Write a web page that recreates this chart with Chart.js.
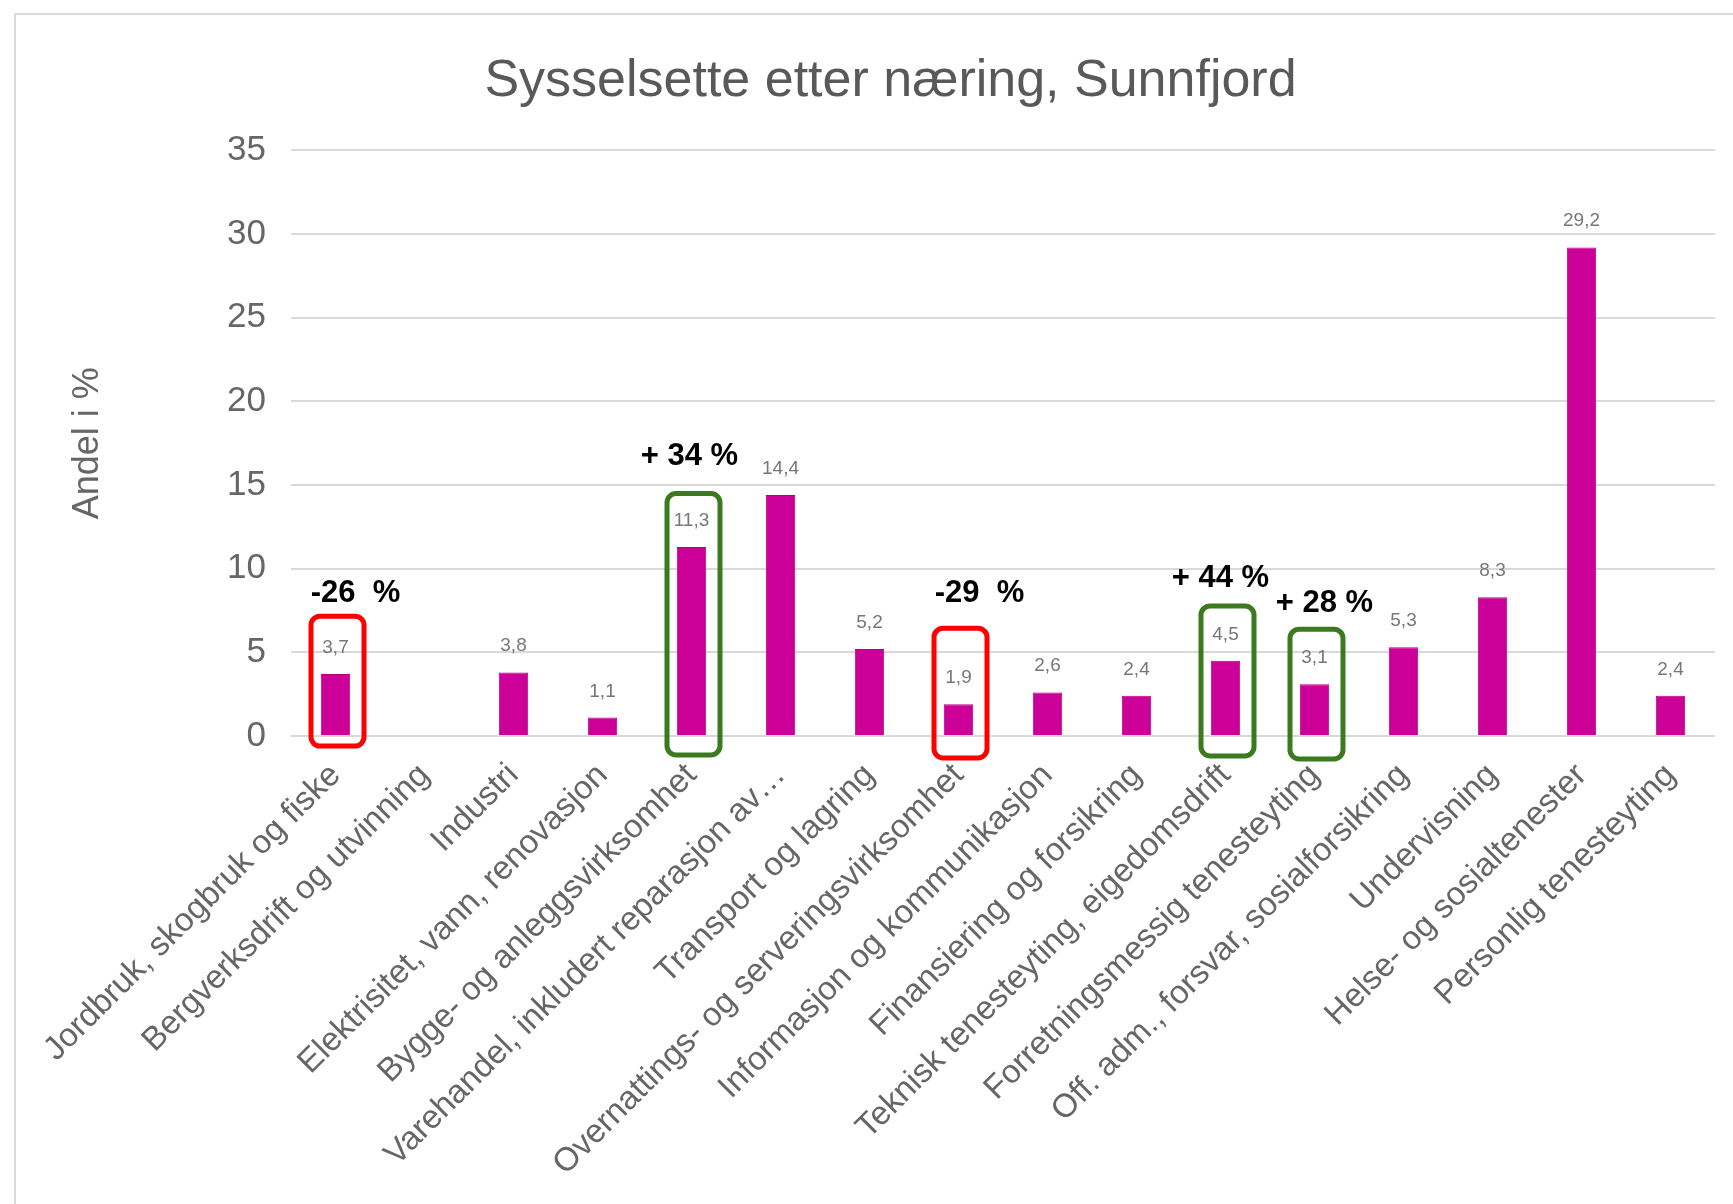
<!DOCTYPE html>
<html>
<head>
<meta charset="utf-8">
<script src="https://cdn.jsdelivr.net/npm/chart.js@4/dist/chart.umd.min.js"></script>
<style>
  html, body { margin: 0; padding: 0; background: #fff; }
  #wrap { position: relative; width: 1733px; height: 1204px; }
  #frame { position: absolute; left: 14px; top: 13px; right: 0; bottom: 0;
           border-left: 2px solid #dadada; border-top: 2px solid #dadada; pointer-events: none; }
</style>
</head>
<body>
<div id="wrap">
  <canvas id="myChart" width="1733" height="1204"></canvas>
  <div id="frame"></div>
</div>
<script>
const categories = [
  'Jordbruk, skogbruk og fiske',
  'Bergverksdrift og utvinning',
  'Industri',
  'Elektrisitet, vann, renovasjon',
  'Bygge- og anleggsvirksomhet',
  'Varehandel, inkludert reparasjon av…',
  'Transport og lagring',
  'Overnattings- og serveringsvirksomhet',
  'Informasjon og kommunikasjon',
  'Finansiering og forsikring',
  'Teknisk tenesteyting, eigedomsdrift',
  'Forretningsmessig tenesteyting',
  'Off. adm., forsvar, sosialforsikring',
  'Undervisning',
  'Helse- og sosialtenester',
  'Personlig tenesteyting'
];
const andel = [3.7, 0, 3.8, 1.1, 11.3, 14.4, 5.2, 1.9, 2.6, 2.4, 4.5, 3.1, 5.3, 8.3, 29.2, 2.4];
const yTicks = [0, 5, 10, 15, 20, 25, 30, 35];

// endringar markerte med boksar (kategori-indeks og tekst)
const markIndex = [0, 4, 7, 10, 11];
const markText = ['-26  %', '+ 34 %', '-29  %', '+ 44 %', '+ 28 %'];

const RED = '#ff0000';
const GREEN = '#3b7a1f';
const markStyle = [
  { color: RED,   top: 7.16,  bottom: -0.6,  textY: 8.53,  textDx: 20 },
  { color: GREEN, top: 14.49, bottom: -1.13, textY: 16.7,  textDx: -2 },
  { color: RED,   top: 6.44,  bottom: -1.31, textY: 8.53,  textDx: 21 },
  { color: GREEN, top: 7.77,  bottom: -1.19, textY: 9.42,  textDx: -5 },
  { color: GREEN, top: 6.38,  bottom: -1.37, textY: 7.93,  textDx: 10 }
];

const FONT = '"Liberation Sans", Arial, sans-serif';

const labelsPlugin = {
  id: 'labelsAndMarks',
  afterDatasetsDraw(chart) {
    const ctx = chart.ctx;
    const meta = chart.getDatasetMeta(0);
    ctx.save();
    ctx.font = '19px ' + FONT;
    ctx.fillStyle = '#777777';
    ctx.textAlign = 'center';
    ctx.textBaseline = 'alphabetic';
    meta.data.forEach((bar, i) => {
      const v = andel[i];
      if (!v) return;
      ctx.fillText(v.toFixed(1).replace('.', ','), bar.x, bar.y - 21);
    });

    const xs = chart.scales.x, ys = chart.scales.y;
    markIndex.forEach((idx, k) => {
      const st = markStyle[k];
      const cx = xs.getPixelForValue(idx) + 2;
      const top = ys.getPixelForValue(st.top);
      const bottom = ys.getPixelForValue(st.bottom);
      ctx.lineWidth = 5;
      ctx.strokeStyle = st.color;
      ctx.beginPath();
      ctx.roundRect(cx - 26.5, top, 53, bottom - top, 9);
      ctx.stroke();

      ctx.font = 'bold 31px ' + FONT;
      ctx.fillStyle = '#000';
      ctx.textAlign = 'center';
      ctx.textBaseline = 'middle';
      ctx.fillText(markText[k], xs.getPixelForValue(idx) + st.textDx, ys.getPixelForValue(st.textY));
    });
    ctx.restore();
  }
};

document.addEventListener('DOMContentLoaded', function() {
  const ctx = document.getElementById('myChart');

  new Chart(ctx, {
    type: 'bar',
    data: {
      labels: categories,
      datasets: [{
        label: 'Andel i %',
        data: andel,
        backgroundColor: '#cc0099',
        borderColor: '#b3007f',
        borderWidth: 1,
        barPercentage: 0.33,
        categoryPercentage: 1
      }]
    },
    options: {
      responsive: false,
      animation: false,
      devicePixelRatio: 1,
      layout: { padding: { left: 66, right: 18, top: 0, bottom: 0 } },
      plugins: {
        legend: { display: false },
        tooltip: { enabled: false },
        title: {
          display: true,
          text: 'Sysselsette etter næring, Sunnfjord',
          color: '#595959',
          font: { family: FONT, size: 52, weight: 'normal' },
          padding: { top: 50, bottom: 38 }
        }
      },
      scales: {
        x: {
          grid: { display: false, drawTicks: false },
          border: { display: false },
          afterFit(scale) {
            // lange skrå etikettar skal ikkje skuve plottet
            scale.paddingLeft = 0;
            scale.paddingRight = 0;
            scale.height = 468;
          },
          ticks: {
            autoSkip: false,
            maxRotation: 45,
            minRotation: 45,
            padding: 20,
            color: '#666666',
            font: { family: FONT, size: 33 }
          }
        },
        y: {
          min: 0,
          max: 35,
          afterBuildTicks(axis) { axis.ticks = yTicks.map(v => ({ value: v })); },
          afterFit(scale) { scale.width = 225; },
          grid: { color: '#d9d9d9', lineWidth: 2, drawTicks: false },
          border: { display: false },
          ticks: {
            padding: 25,
            color: '#666666',
            font: { family: FONT, size: 35 }
          },
          title: {
            display: true,
            text: 'Andel i %',
            color: '#666666',
            font: { family: FONT, size: 36 },
            padding: { top: 0, bottom: 120 }
          }
        }
      }
    },
    plugins: [labelsPlugin]
  });
});
</script>
</body>
</html>
